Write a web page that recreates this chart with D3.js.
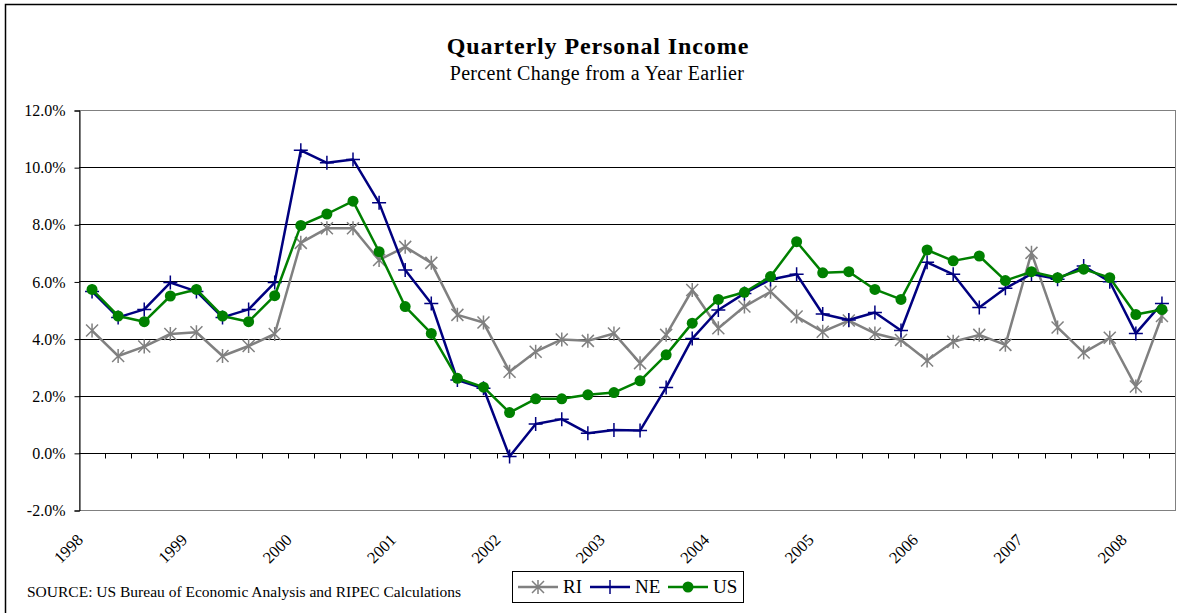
<!DOCTYPE html>
<html>
<head>
<meta charset="utf-8">
<script src="https://cdn.jsdelivr.net/npm/d3@7"></script>
<style>
  body { margin: 0; background: #fff; }
  svg text { font-family: "Liberation Serif", "Times New Roman", serif; fill: #000; }
</style>
</head>
<body>
<div id="viz"></div>
<script>
// quarterly data, 1998 Q1 through 2008 Q2 (42 quarters)
let years = ['1998', '1999', '2000', '2001', '2002', '2003', '2004', '2005', '2006', '2007', '2008'];
let quarters = d3.range(42);

// percent change from a year earlier
let ri = [4.28, 3.39, 3.72, 4.16, 4.22, 3.39, 3.74, 4.16,
          7.35, 7.86, 7.86, 6.75, 7.21, 6.65, 4.83, 4.56,
          2.84, 3.54, 3.97, 3.92, 4.18, 3.14, 4.13, 5.70,
          4.36, 5.12, 5.64, 4.77, 4.24, 4.63, 4.18, 3.95,
          3.23, 3.89, 4.13, 3.78, 7.00, 4.39, 3.51, 4.03,
          2.32, 4.79];
let ne = [5.65, 4.74, 5.02, 5.96, 5.65, 4.74, 5.02, 5.96,
          10.59, 10.15, 10.27, 8.75, 6.40, 5.23, 2.55, 2.26,
          -0.13, 1.01, 1.18, 0.69, 0.80, 0.78, 2.29, 4.00,
          5.00, 5.58, 6.07, 6.25, 4.86, 4.65, 4.91, 4.28,
          6.67, 6.25, 5.09, 5.76, 6.26, 6.08, 6.54, 5.99,
          4.18, 5.23];
let us = [5.72, 4.79, 4.59, 5.49, 5.72, 4.79, 4.59, 5.50,
          7.96, 8.36, 8.81, 7.04, 5.12, 4.18, 2.61, 2.30,
          1.41, 1.89, 1.89, 2.03, 2.11, 2.52, 3.43, 4.54,
          5.37, 5.62, 6.17, 7.39, 6.30, 6.34, 5.72, 5.37,
          7.10, 6.72, 6.89, 6.03, 6.34, 6.13, 6.43, 6.13,
          4.84, 5.02];

let yTicks = [-2, 0, 2, 4, 6, 8, 10, 12];

let names = ['RI', 'NE', 'US'];
let data = [ri, ne, us];
let colors = ['#808080', '#000080', '#008000'];
let markers = ['star', 'plus', 'dot'];

// dimensions
let dimensions = {
    width: 1177,
    height: 613,
    plot: { left: 79, right: 1175, top: 110, bottom: 510 }
}

const svg = d3.select('#viz').append('svg')
    .attr('width', dimensions.width)
    .attr('height', dimensions.height)

// outer chart frame (right and bottom edges fall outside the picture)
svg.append('rect')
    .attr('x', 5.5).attr('y', 4.5)
    .attr('width', 1200).attr('height', 640)
    .attr('fill', 'none')
    .attr('stroke', '#000')
    .attr('stroke-width', 1.5)

// titles
svg.append('text')
    .attr('x', 598).attr('y', 54)
    .attr('text-anchor', 'middle')
    .style('font-size', '24px')
    .style('font-weight', 'bold')
    .style('letter-spacing', '0.9px')
    .text('Quarterly Personal Income')

svg.append('text')
    .attr('x', 597).attr('y', 80)
    .attr('text-anchor', 'middle')
    .style('font-size', '20px')
    .style('letter-spacing', '0.3px')
    .text('Percent Change from a Year Earlier')

// SCALES
const xScale = d3.scaleBand()
    .domain(quarters)
    .range([dimensions.plot.left, dimensions.plot.right])

const yScale = d3.scaleLinear()
    .domain([-2, 12])
    .range([dimensions.plot.bottom, dimensions.plot.top])

const cx = i => xScale(i) + xScale.bandwidth() / 2;

// plot area border
svg.append('rect')
    .attr('x', dimensions.plot.left + 0.5)
    .attr('y', dimensions.plot.top + 0.5)
    .attr('width', dimensions.plot.right - dimensions.plot.left)
    .attr('height', dimensions.plot.bottom - dimensions.plot.top)
    .attr('fill', 'none')
    .attr('stroke', '#808080')

// horizontal gridlines
svg.append('g')
    .selectAll('line')
    .data(yTicks.filter(d => d > -2 && d < 12))
    .join('line')
        .attr('x1', dimensions.plot.left)
        .attr('x2', dimensions.plot.right)
        .attr('y1', d => Math.round(yScale(d)) + 0.5)
        .attr('y2', d => Math.round(yScale(d)) + 0.5)
        .attr('stroke', '#000')

// y axis
const yAxis = d3.axisLeft(yScale)
    .tickValues(yTicks)
    .tickSize(5)
    .tickPadding(9)
    .tickFormat(d => d.toFixed(1) + '%')

svg.append('g')
    .attr('transform', `translate(${dimensions.plot.left + 0.5},0.5)`)
    .call(yAxis)
    .call(g => g.selectAll('line, path').attr('stroke', '#000'))
    .call(g => g.selectAll('text')
        .style('font-family', '"Liberation Serif", "Times New Roman", serif')
        .style('font-size', '16px')
        .attr('fill', '#000'))

// x axis sits on the 0% line, ticks between categories
const zeroY = Math.round(yScale(0)) + 0.5;
svg.append('g')
    .selectAll('line')
    .data(quarters.slice(1))
    .join('line')
        .attr('x1', d => Math.round(xScale(d)) + 0.5)
        .attr('x2', d => Math.round(xScale(d)) + 0.5)
        .attr('y1', zeroY)
        .attr('y2', zeroY + 5)
        .attr('stroke', '#000')

// year labels every fourth quarter, rotated
svg.append('g')
    .selectAll('text')
    .data(years)
    .join('text')
        .attr('transform', (d, i) => `translate(${cx(i * 4) - 8},541) rotate(-45)`)
        .attr('text-anchor', 'end')
        .style('font-size', '16.5px')
        .text(d => d)

// marker drawing
function drawMarker(g, type, color, x, y) {
    if (type === 'dot') {
        g.append('circle')
            .attr('cx', x).attr('cy', y).attr('r', 5.5)
            .attr('fill', color)
    } else if (type === 'plus') {
        g.append('path')
            .attr('d', `M${x - 7},${y}H${x + 7}M${x},${y - 7}V${y + 7}`)
            .attr('stroke', color).attr('stroke-width', 1.5)
    } else {
        g.append('path')
            .attr('d', `M${x - 6},${y - 6}L${x + 6},${y + 6}M${x - 6},${y + 6}L${x + 6},${y - 6}M${x},${y - 7}V${y + 7}`)
            .attr('stroke', color).attr('stroke-width', 1.5)
    }
}

const line = d3.line()
    .x((d, i) => cx(i))
    .y(d => yScale(d))

// one series at a time: RI, NE, US (US on top)
for (let s = 0; s < data.length; s++) {
    const g = svg.append('g').attr('id', names[s]);
    g.append('path')
        .datum(data[s])
        .attr('d', line)
        .attr('fill', 'none')
        .attr('stroke', colors[s])
        .attr('stroke-width', 2.5)
        .attr('stroke-linejoin', 'round')
    data[s].forEach((v, i) => drawMarker(g, markers[s], colors[s], cx(i), yScale(v)));
}

// source note
svg.append('text')
    .attr('x', 27).attr('y', 597)
    .style('font-size', '15.5px')
    .text('SOURCE: US Bureau of Economic Analysis and RIPEC Calculations')

// legend
const legend = svg.append('g')
legend.append('rect')
    .attr('x', 512.5).attr('y', 571.5)
    .attr('width', 231).attr('height', 31)
    .attr('fill', '#fff')
    .attr('stroke', '#000')

let legendX = [518, 590, 668];
names.forEach((name, s) => {
    const x0 = legendX[s];
    legend.append('line')
        .attr('x1', x0).attr('x2', x0 + 40)
        .attr('y1', 587).attr('y2', 587)
        .attr('stroke', colors[s])
        .attr('stroke-width', 2.5)
    drawMarker(legend, markers[s], colors[s], x0 + 20, 587);
    legend.append('text')
        .attr('x', x0 + 45).attr('y', 593)
        .style('font-size', '19px')
        .text(name)
});
</script>
</body>
</html>
